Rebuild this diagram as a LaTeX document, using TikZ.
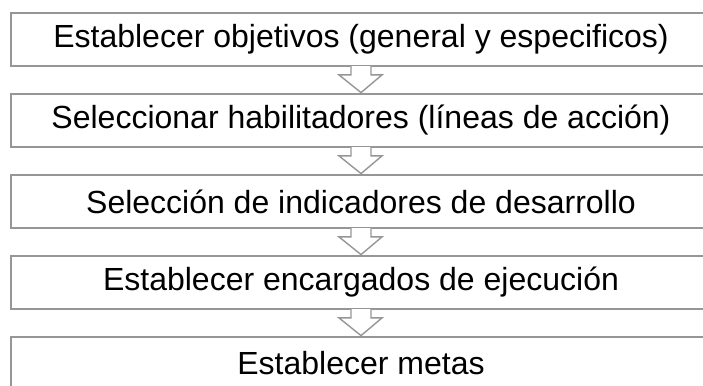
\documentclass[tikz,border=0pt]{standalone}
\usepackage{fontspec}
\setmainfont{Liberation Sans}
\usetikzlibrary{calc}
\definecolor{boxgray}{HTML}{969696}
\tikzset{
  stepbox/.style={draw=boxgray, line width=2.8pt, fill=white, minimum width=700pt,
    minimum height=53pt, inner sep=0pt, font=\fontsize{32}{37}\selectfont},
  flowarrow/.style={draw=boxgray, line width=1.4pt, fill=white, line join=miter}
}
\begin{document}
\begin{tikzpicture}[x=1pt,y=1pt]
\useasboundingbox (0,0) rectangle (703,-385);
\begin{scope}
\clip (0,0) rectangle (703,-385);
\node[stepbox] (b1) at (361,-39.5) {Establecer objetivos (general y especificos)};
\node[stepbox] (b2) at (361,-120.5) {Seleccionar habilitadores (líneas de acción)};
\node[stepbox] (b3) at (361,-201.5) {Selección de indicadores de desarrollo};
\node[stepbox] (b4) at (361,-282.5) {Establecer encargados de ejecución};
\node[stepbox] (b5) at (361,-363.5) {Establecer metas};
\foreach \a/\b in {b1/b2,b2/b3,b3/b4,b4/b5}{
  \path[flowarrow]
    ($(\a.south)+(-10,1.3)$) -- ($(\a.south)+(-10,-7.5)$) -- ($(\a.south)+(-22,-7.5)$)
    -- (\b.north) -- ($(\a.south)+(21,-7.5)$) -- ($(\a.south)+(10,-7.5)$)
    -- ($(\a.south)+(10,1.3)$);
}
\end{scope}
\end{tikzpicture}
\end{document}
